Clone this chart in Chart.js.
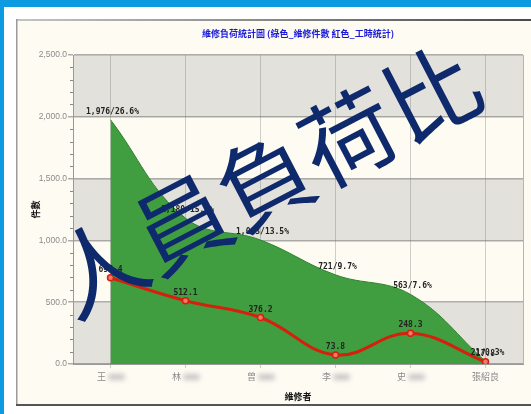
<!DOCTYPE html>
<html>
<head>
<meta charset="utf-8">
<script src="https://cdn.jsdelivr.net/npm/chart.js@4"></script>
<style>
html,body{margin:0;padding:0;background:#0c9be0;}
canvas{display:block;}
</style>
</head>
<body>
<canvas id="c" width="531" height="414"></canvas>
<script>
const categories = ['王', '林', '曾', '李', '史', '張紹良'];
const blurredName = [true, true, true, true, true, false];
const caseCounts = [1976, 1180, 1003, 721, 563, 21];
const casePercents = ['26.6', '15.9', '13.5', '9.7', '7.6', '0.3'];
const workHours = [697.4, 512.1, 376.2, 73.8, 248.3, 17.8];
const yTicks = [0, 500, 1000, 1500, 2000, 2500];
const titleText = '維修負荷統計圖 (綠色_維修件數 紅色_工時統計)';
const xTitle = '維修者';
const yTitle = '件數';
const watermark = '人員負荷比';

function fmt1(v){ return v.toLocaleString('en-US',{minimumFractionDigits:1,maximumFractionDigits:1}); }

const decor = {
  id:'decor',
  beforeDraw(chart){
    const ctx = chart.ctx, W = chart.width, H = chart.height;
    const a = chart.chartArea, y = chart.scales.y;
    ctx.save();
    ctx.fillStyle = '#0c9be0'; ctx.fillRect(0,0,W,H);
    ctx.fillStyle = '#ffffff'; ctx.fillRect(4,7,W-4,H-7);
    ctx.fillStyle = '#fdfbf2'; ctx.fillRect(17,20,W-17,385);
    const g = ctx.createLinearGradient(16,0,W,0);
    g.addColorStop(0,'#c4c4c4'); g.addColorStop(1,'#4a4a4a');
    ctx.fillStyle = g; ctx.fillRect(16,19,W-16,2);
    ctx.fillStyle = '#9a9a9a'; ctx.fillRect(16,19,1.5,387);
    ctx.fillStyle = '#555'; ctx.fillRect(16,404,W-16,2);
    for (let i=0;i<yTicks.length-1;i++){
      const top = y.getPixelForValue(yTicks[i+1]), bot = y.getPixelForValue(yTicks[i]);
      ctx.fillStyle = (i%2===0) ? '#e3e1dc' : '#fdfbf2';
      ctx.fillRect(a.left, top, a.right-a.left, bot-top);
    }
    ctx.restore();
  },
  afterDatasetsDraw(chart){
    const ctx = chart.ctx;
    ctx.save();
    ctx.font = 'bold 8px "DejaVu Sans Mono"';
    ctx.fillStyle = '#222';
    ctx.textAlign = 'center'; ctx.textBaseline = 'bottom';
    const m0 = chart.getDatasetMeta(0), m1 = chart.getDatasetMeta(1);
    m0.data.forEach((p,i)=>{
      ctx.fillText(caseCounts[i].toLocaleString('en-US')+'/'+casePercents[i]+'%', p.x+2, p.y-4);
    });
    m1.data.forEach((p,i)=>{
      ctx.fillText(fmt1(workHours[i]), p.x, p.y-4);
    });
    ctx.restore();
  },
  afterDraw(chart){
    const ctx = chart.ctx, a = chart.chartArea, y = chart.scales.y, x = chart.scales.x;
    ctx.save();
    ctx.strokeStyle = '#b5b5b5'; ctx.lineWidth = 1;
    ctx.beginPath(); ctx.moveTo(a.right+0.5,a.top); ctx.lineTo(a.right+0.5,a.bottom); ctx.stroke();
    ctx.strokeStyle = '#888';
    for (let v=100; v<2500; v+=100){
      if (v%500===0) continue;
      const py = Math.round(y.getPixelForValue(v))+0.5;
      ctx.beginPath(); ctx.moveTo(a.left-3,py); ctx.lineTo(a.left,py); ctx.stroke();
    }
    ctx.filter = 'blur(2.5px)';
    ctx.fillStyle = '#c6c6c6';
    categories.forEach((c,i)=>{
      if (!blurredName[i]) return;
      const px = x.getPixelForValue(i);
      ctx.fillRect(px-2, 374, 16, 6);
    });
    ctx.filter = 'none';
    ctx.fillStyle = '#1a1ad6';
    ctx.font = 'bold 9px "Noto Sans CJK TC"';
    ctx.textAlign = 'center'; ctx.textBaseline = 'middle';
    ctx.fillText(titleText, (a.left+a.right)/2, 34);
    ctx.fillStyle = '#111';
    ctx.fillText(xTitle, (a.left+a.right)/2, 397);
    ctx.save();
    ctx.translate(36,(a.top+a.bottom)/2); ctx.rotate(-Math.PI/2);
    ctx.fillText(yTitle,0,0);
    ctx.restore();
    ctx.translate(265,180); ctx.rotate(-0.48);
    ctx.fillStyle = '#0f2a6c';
    ctx.font = '94px "Noto Sans CJK TC"';
    ctx.fillText(watermark,0,0);
    ctx.restore();
  }
};

new Chart(document.getElementById('c'), {
  type:'line',
  data:{
    labels: categories,
    datasets:[
      {data: caseCounts, fill:'origin', backgroundColor:'#409d40', borderColor:'#2f802f', borderWidth:1,
       pointRadius:0, tension:0.4, order:2},
      {data: workHours, fill:false, borderColor:'#d4200c', borderWidth:3, tension:0.4,
       pointRadius:3, pointBackgroundColor:'#f07a6a', pointBorderColor:'#d4200c', pointBorderWidth:1.5, order:1}
    ]
  },
  options:{
    responsive:false, animation:false, devicePixelRatio:1,
    layout:{padding:{left:0, top:55, right:8, bottom:0}},
    plugins:{legend:{display:false}, tooltip:{enabled:false}, title:{display:false}},
    scales:{
      x:{
        offset:true, z:1,
        grid:{color:'rgba(120,120,120,0.35)', tickLength:4, offset:false},
        border:{color:'#999'},
        ticks:{color:'#8a8a8a', font:{size:9, family:'"Noto Sans CJK TC"'}, padding:3, maxRotation:0,
          callback:(v,i)=> blurredName[i] ? categories[i]+'\u3000\u3000' : categories[i]},
        afterFit(s){ s.height = 50; }
      },
      y:{
        min:0, max:2500, z:1,
        grid:{color:'rgba(110,110,110,0.55)', lineWidth:1.5, tickLength:5},
        border:{color:'#999'},
        ticks:{stepSize:500, color:'#8a8a8a', font:{size:8.5, family:'"Liberation Sans"'}, padding:1,
          callback:v=>fmt1(v)},
        afterFit(s){ s.width = 73; }
      }
    }
  },
  plugins:[decor]
});
</script>
</body>
</html>
